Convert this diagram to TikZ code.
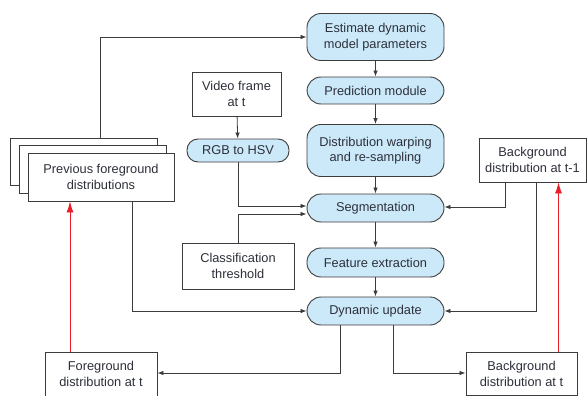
\documentclass[tikz,border=0pt]{standalone}
\usepackage{fontspec}
\setmainfont{Liberation Sans}
\usetikzlibrary{arrows.meta}
\definecolor{pillblue}{RGB}{204,233,250}
\definecolor{txt}{RGB}{45,48,58}
\definecolor{ln}{RGB}{60,60,60}
\definecolor{redln}{RGB}{232,30,40}
\tikzset{
  base/.style={draw=ln, line width=0.9pt, text=txt, align=center, font=\fontsize{12.8}{15.5}\selectfont, inner sep=0pt},
  pill/.style={base, fill=pillblue, rounded corners=14pt},
  sqbox/.style={base, fill=white},
  conn/.style={draw=ln, line width=0.8pt, -{Latex[length=6pt,width=4.5pt]}},
  plain/.style={draw=ln, line width=0.8pt},
  redconn/.style={draw=redln, line width=0.8pt, -{Latex[length=11pt,width=7pt]}}
}
\begin{document}
\begin{tikzpicture}[x=1pt,y=-1pt]
\useasboundingbox (0,0) rectangle (587,396);
% pills
\node[pill, minimum width=137pt, minimum height=47pt] (est) at (375.5,37) {Estimate dynamic\\model parameters};
\node[pill, minimum width=137pt, minimum height=27pt] (pred) at (375.5,90.5) {Prediction module};
\node[pill, minimum width=137pt, minimum height=52pt] (warp) at (375.5,150.5) {Distribution warping\\and re-sampling};
\node[pill, minimum width=137pt, minimum height=28pt] (seg) at (375.5,208) {Segmentation};
\node[pill, minimum width=137pt, minimum height=29pt] (feat) at (375.5,262.5) {Feature extraction};
\node[pill, minimum width=137pt, minimum height=28pt] (dyn) at (375.5,311) {Dynamic update};
% left inputs
\node[sqbox, minimum width=89pt, minimum height=44pt] (video) at (236.5,94) {Video frame\\at t};
\node[pill, rounded corners=11pt, minimum width=102pt, minimum height=23pt] (rgb) at (238,150.5) {RGB to HSV};
\node[sqbox, minimum width=112pt, minimum height=46pt] (cls) at (238,266) {Classification\\threshold};
% previous foreground stack
\node[sqbox, minimum width=147pt, minimum height=47pt] (pf3) at (83.5,161.5) {};
\node[sqbox, minimum width=147pt, minimum height=48pt] (pf2) at (92.5,169) {};
\node[sqbox, minimum width=146pt, minimum height=48pt] (pf) at (101,177) {Previous foreground\\distributions};
% right / bottom boxes
\node[sqbox, minimum width=107pt, minimum height=44pt] (bgt1) at (532.5,160) {Background\\distribution at t-1};
\node[sqbox, minimum width=112pt, minimum height=44pt] (fgt) at (101,374) {Foreground\\distribution at t};
\node[sqbox, minimum width=111pt, minimum height=43pt] (bgt) at (521.5,374) {Background\\distribution at t};
% coordinates
\coordinate (c1) at (100,37);
\coordinate (c2) at (238,206);
\coordinate (c3) at (238,214);
\coordinate (c4) at (505,207);
\coordinate (c5) at (536,311);
\coordinate (c6) at (132,311);
\coordinate (c7) at (340,373);
\coordinate (c8) at (393,373);
% vertical chain
\draw[conn] (est) -- (pred);
\draw[conn] (pred) -- (warp);
\draw[conn] (warp) -- (seg);
\draw[conn] (seg) -- (feat);
\draw[conn] (feat) -- (dyn);
\draw[conn] (video) -- (rgb);
% feedback
\draw[conn] (pf3.north -| c1) -- (c1) -- (est.west |- c1);
\draw[conn] (rgb.south -| c2) -- (c2) -- (seg.west |- c2);
\draw[conn] (cls.north -| c3) -- (c3) -- (seg.west |- c3);
\draw[conn] (bgt1.south -| c4) -- (c4) -- (seg.east |- c4);
\draw[conn] (bgt1.south -| c5) -- (c5) -- (dyn.east |- c5);
\draw[conn] (pf.south -| c6) -- (c6) -- (dyn.west |- c6);
\draw[conn] (dyn.south -| c7) -- (c7) -- (fgt.east |- c7);
\draw[conn] (dyn.south -| c8) -- (c8) -- (bgt.west |- c8);
% red arrows
\coordinate (r1) at (70,352);
\coordinate (r2) at (558.5,352);
\draw[redconn] (fgt.north -| r1) -- (pf.south -| r1);
\draw[redconn] (bgt.north -| r2) -- (bgt1.south -| r2);
\end{tikzpicture}
\end{document}
